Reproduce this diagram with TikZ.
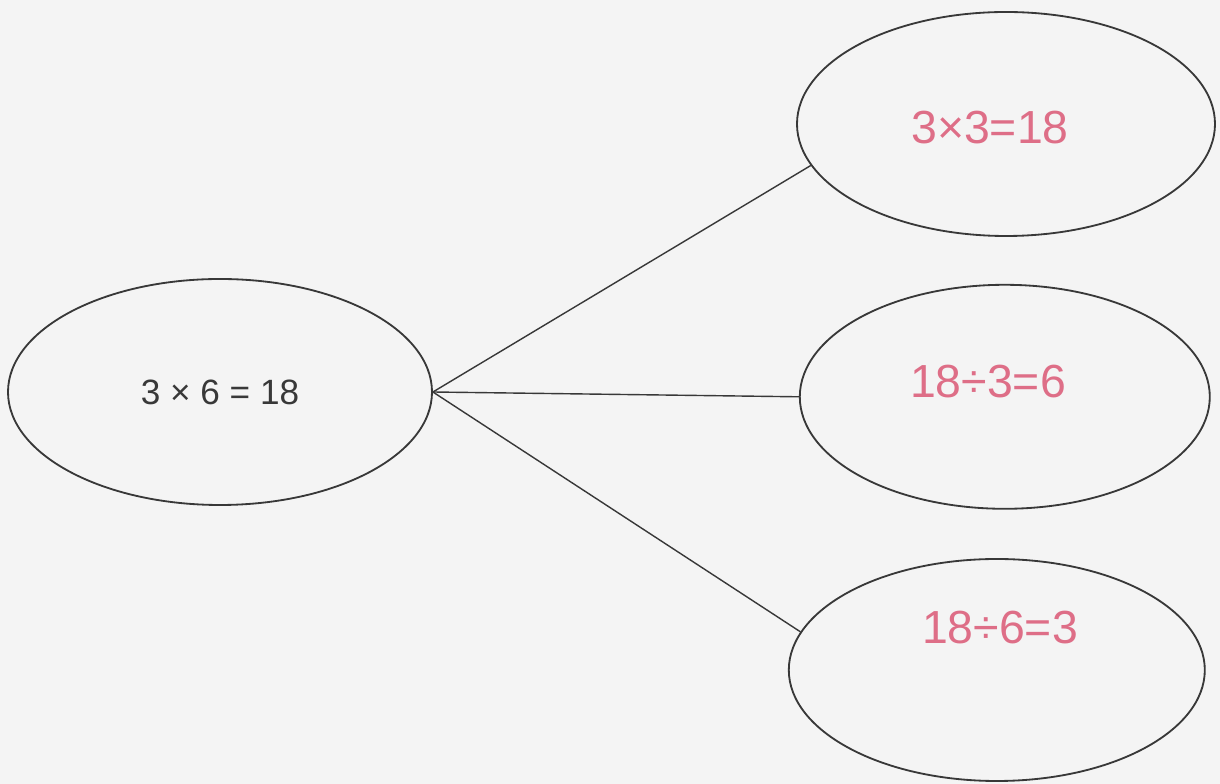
\documentclass[tikz,border=0pt]{standalone}
\usepackage{fontspec}
\setmainfont{Liberation Sans}
\usetikzlibrary{shapes.geometric,positioning}
\definecolor{paper}{gray}{0.955}
\definecolor{ink}{gray}{0.22}
\definecolor{penred}{RGB}{222,110,135}

\begin{document}
\begin{tikzpicture}[oval/.style={ellipse,draw=ink,line width=1.3pt,inner sep=0pt},
  answer/.style={penred,font=\fontsize{33}{37}\selectfont},
  link/.style={ink,line width=1pt}]
  \fill[paper] (0,0) rectangle (30.5,19.6);
  \useasboundingbox (0,0) rectangle (30.5,19.6);

  \node[oval,minimum width=10.6cm,minimum height=5.65cm] (fact) at (5.5,9.8) {};
  \node[font=\fontsize{25}{29}\selectfont,ink] at (fact) {3 × 6 = 18};

  \node[oval,minimum width=10.45cm,minimum height=5.6cm] (top) at (25.15,16.5) {};
  \node[answer] at (24.75,16.4) {3×3=18};

  \node[oval,minimum width=10.25cm,minimum height=5.6cm] (mid) at (25.12,9.68) {};
  \node[answer] at (24.7,10.05) {18÷3=6};

  \node[oval,minimum width=10.4cm,minimum height=5.55cm] (bot) at (24.92,2.85) {};
  \node[answer] at (25.0,3.9) {18÷6=3};

  \draw[link] (fact.east) -- (top.192);
  \draw[link] (fact.east) -- (mid.west);
  \draw[link] (fact.east) -- (bot.169);
\end{tikzpicture}
\end{document}
